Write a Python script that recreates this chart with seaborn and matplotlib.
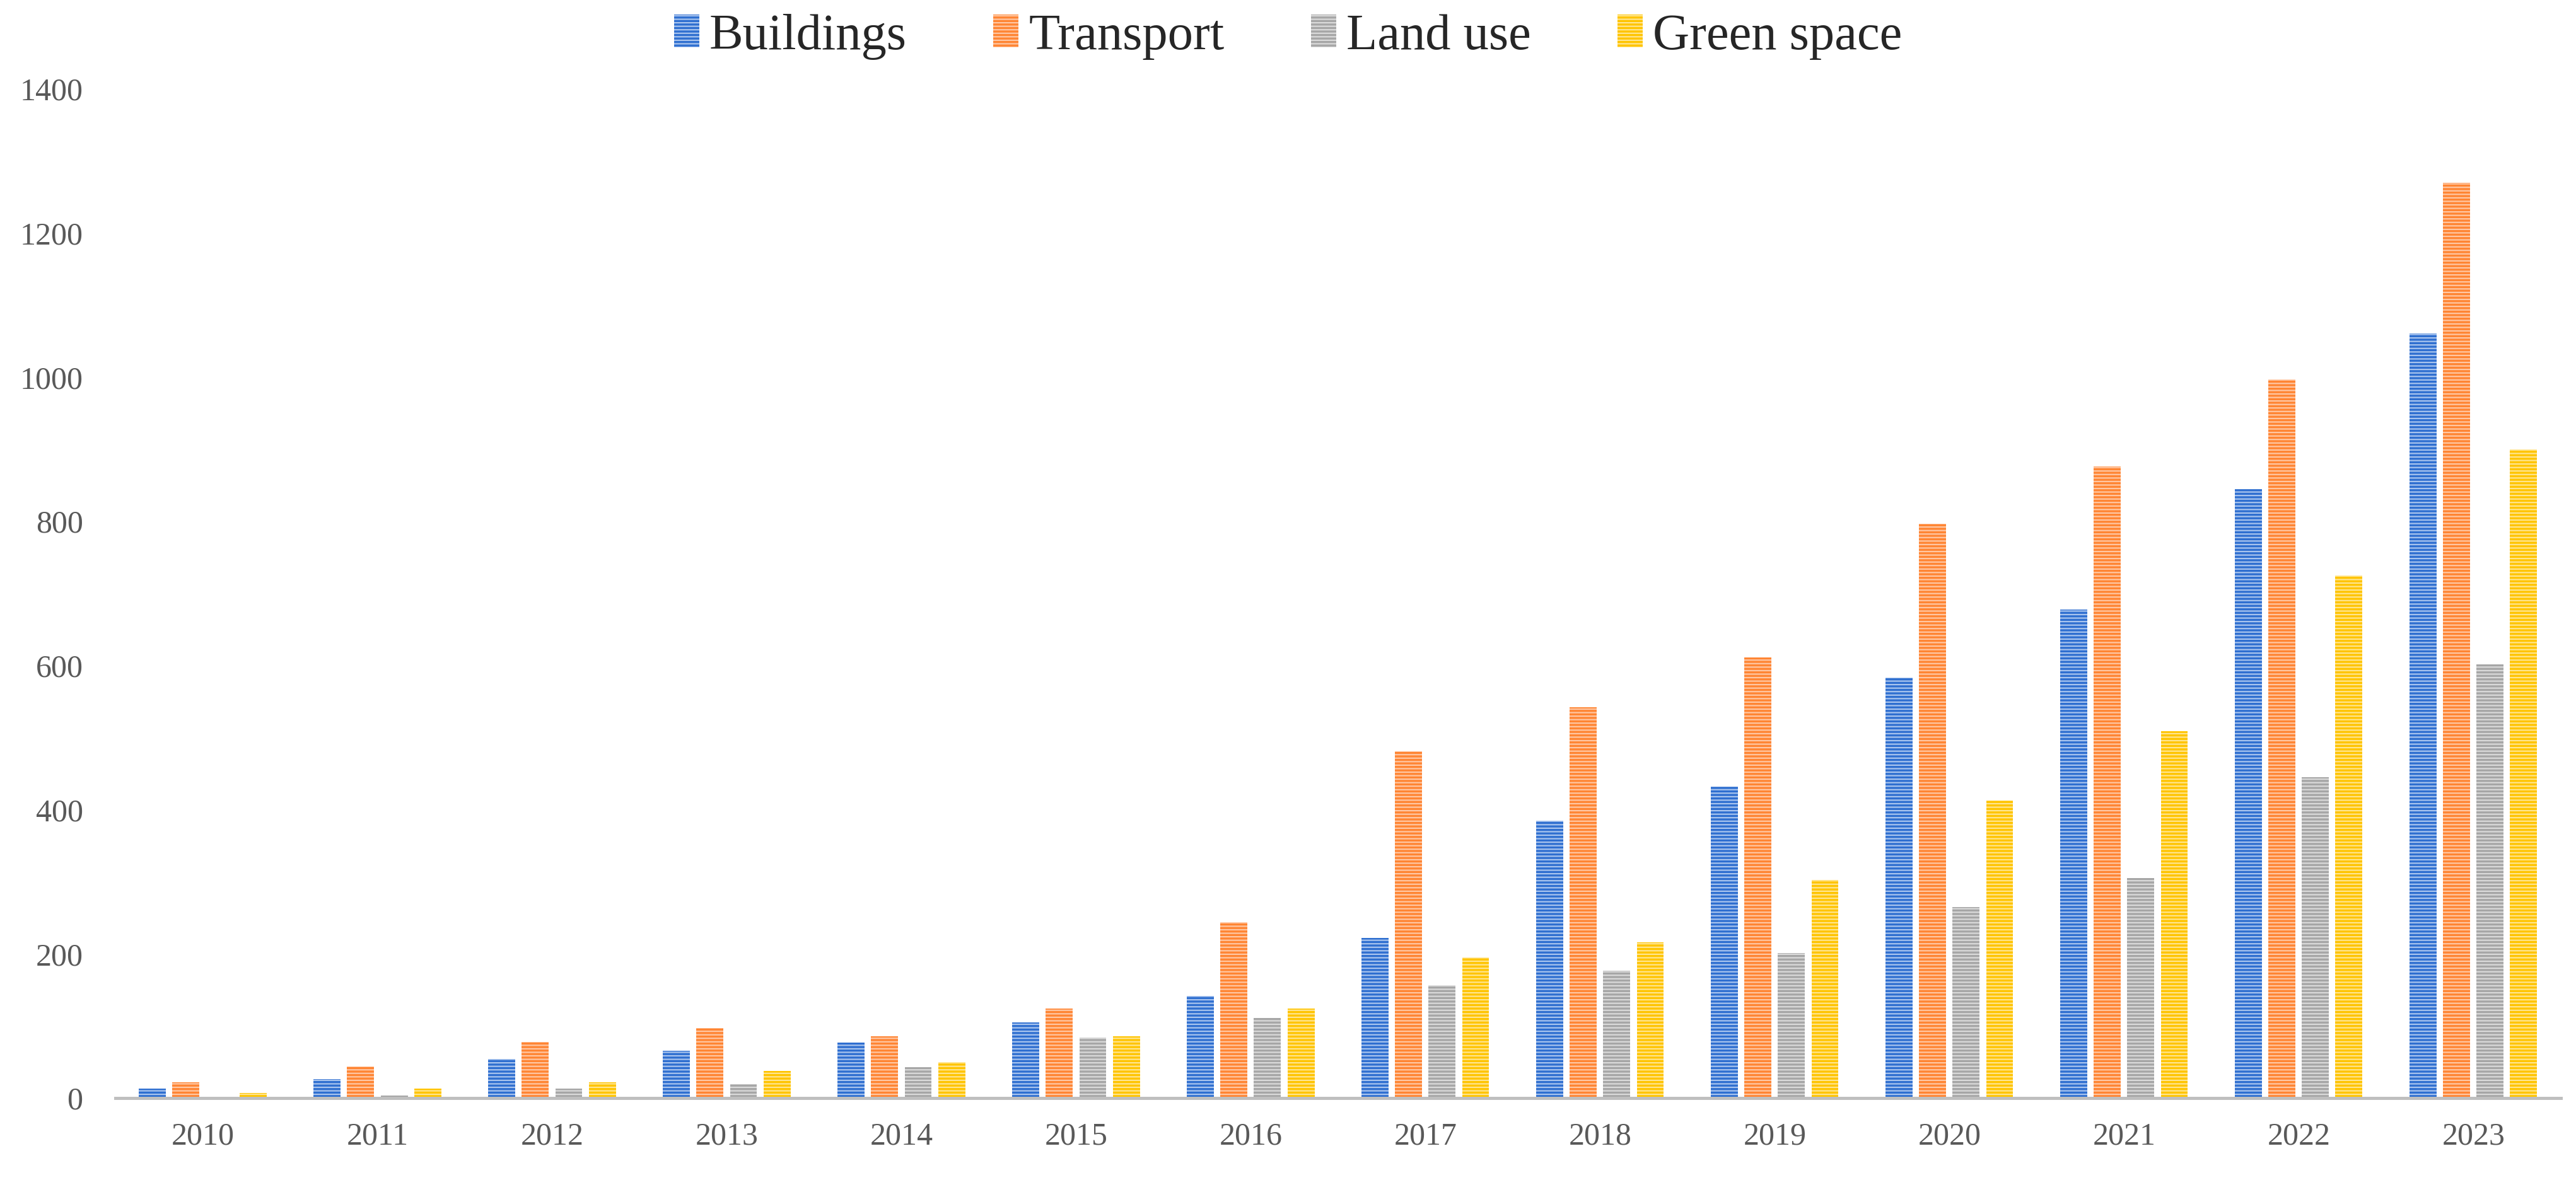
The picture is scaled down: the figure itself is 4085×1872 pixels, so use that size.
import matplotlib
matplotlib.use("Agg")
import matplotlib.pyplot as plt
import seaborn as sns
import pandas as pd

years = ["2010", "2011", "2012", "2013", "2014", "2015", "2016",
         "2017", "2018", "2019", "2020", "2021", "2022", "2023"]
categories = ["Buildings", "Transport", "Land use", "Green space"]
buildings = [13, 26, 54, 66, 77, 105, 142, 222, 385, 432, 583, 678, 845, 1061]
transport = [22, 44, 78, 97, 86, 124, 244, 481, 542, 611, 797, 876, 997, 1270]
land_use = [0, 4, 13, 19, 43, 84, 111, 157, 177, 201, 265, 305, 445, 602]
green_space = [7, 13, 22, 38, 50, 86, 124, 195, 216, 303, 413, 509, 725, 900]
y_ticks = [0, 200, 400, 600, 800, 1000, 1200, 1400]

colors = ["#2F6FD0", "#FF8533", "#A6A6A6", "#FFC400"]
stripe_colors = ["#A8C4EE", "#FFC7A3", "#DADADA", "#FFE590"]

series = [buildings, transport, land_use, green_space]
rows = []
for cat, vals in zip(categories, series):
    for yr, v in zip(years, vals):
        rows.append({"Year": yr, "Category": cat, "Value": v})
df = pd.DataFrame(rows)

sns.set_style("white")
plt.rcParams["font.family"] = ["Liberation Serif", "DejaVu Serif"]
plt.rcParams["hatch.linewidth"] = 1.6

fig = plt.figure(figsize=(40.85, 18.72), dpi=100)
ax = fig.add_axes([0.0448, 0.0694, 0.9493, 0.8553])

sns.barplot(data=df, x="Year", y="Value", hue="Category", order=years,
            hue_order=categories, palette=colors, width=0.766, gap=0.19,
            ax=ax, legend=False, saturation=1)

for cont, sc in zip(ax.containers, stripe_colors):
    for bar in cont.patches:
        bar.set_hatch("---")
        bar.set_edgecolor(sc)
        bar.set_linewidth(0)

ax.set_xlim(-0.5, 13.5)
ax.set_ylim(0, 1400)
ax.set_yticks(y_ticks)
ax.set_xlabel("")
ax.set_ylabel("")
for s in ["top", "right", "left"]:
    ax.spines[s].set_visible(False)
ax.spines["bottom"].set_color("#BFBFBF")
ax.spines["bottom"].set_linewidth(3.6)
ax.tick_params(axis="both", length=0, labelsize=36, labelcolor="#595959")
ax.tick_params(axis="y", pad=37)
ax.tick_params(axis="x", pad=27)

handles = [cont.patches[0] for cont in ax.containers]
fig.legend(handles, categories, loc="center", bbox_to_anchor=(0.5, 0.969),
           ncol=4, frameon=False, fontsize=58, handlelength=0.5,
           handleheight=0.62, handletextpad=0.2, columnspacing=1.7)

fig.savefig("out.png", dpi=100, facecolor="white")
